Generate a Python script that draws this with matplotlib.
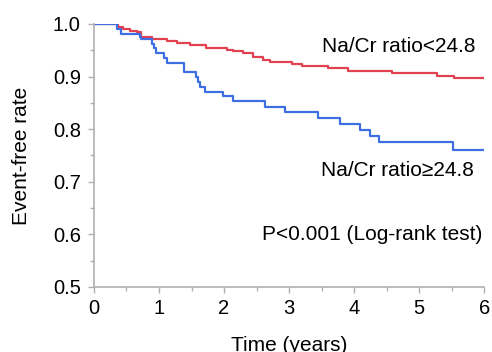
import numpy as np
import matplotlib.pyplot as plt
from matplotlib.ticker import MultipleLocator

plt.rcParams['font.family'] = ['Liberation Sans', 'DejaVu Sans']

# Kaplan-Meier step data
t_low = [0, 0.37, 0.45, 0.55, 0.66, 0.73, 0.89, 1.12, 1.27, 1.48, 1.73, 2.04, 2.14,
         2.29, 2.45, 2.60, 2.71, 3.04, 3.20, 3.60, 3.91, 4.58, 5.28, 5.53, 6.0]
s_low = [1.0, 0.995, 0.991, 0.987, 0.984, 0.976, 0.971, 0.968, 0.963, 0.959, 0.954, 0.951, 0.949,
         0.944, 0.938, 0.932, 0.927, 0.923, 0.920, 0.916, 0.911, 0.906, 0.901, 0.897, 0.897]

t_high = [0, 0.36, 0.41, 0.71, 0.73, 0.89, 0.92, 0.96, 1.08, 1.12, 1.38, 1.57, 1.60, 1.63, 1.71,
          1.98, 2.14, 2.63, 2.94, 3.45, 3.78, 4.09, 4.24, 4.39, 5.52, 6.0]
s_high = [1.0, 0.99, 0.981, 0.976, 0.971, 0.962, 0.954, 0.945, 0.935, 0.925, 0.908, 0.900, 0.890, 0.881, 0.871,
          0.863, 0.854, 0.843, 0.832, 0.821, 0.810, 0.798, 0.787, 0.776, 0.760, 0.760]

fig = plt.figure(figsize=(4.92, 3.52), dpi=100)
ax = fig.add_axes([0.191, 0.185, 0.793, 0.747])

ax.step(t_low, s_low, where='post', color='#e2414f', lw=1.6)
ax.step(t_high, s_high, where='post', color='#3d6fe3', lw=1.6)

ax.set_xlim(0, 6)
ax.set_ylim(0.5, 1.0)
ax.xaxis.set_major_locator(MultipleLocator(1))
ax.xaxis.set_minor_locator(MultipleLocator(0.5))
ax.yaxis.set_minor_locator(MultipleLocator(0.05))
ax.set_yticks(np.arange(0.5, 1.01, 0.1))
ax.set_yticklabels(['0.5', '0.6', '0.7', '0.8', '0.9', '1.0'])

for s in ['top', 'right']:
    ax.spines[s].set_visible(False)
for s in ['left', 'bottom']:
    ax.spines[s].set_color('#b0b0b0')
    ax.spines[s].set_linewidth(1.2)
ax.tick_params(which='major', length=4.5, width=1, color='#b0b0b0', labelsize=14.5)
ax.tick_params(axis='x', which='major', pad=4)
ax.tick_params(axis='y', which='major', pad=5)
ax.tick_params(which='minor', length=3, width=1, color='#b0b0b0')

ax.set_xlabel('Time (years)', fontsize=15, labelpad=13)
ax.set_ylabel('Event-free rate', fontsize=15, labelpad=16)

ax.text(5.86, 0.958, 'Na/Cr ratio<24.8', fontsize=15, ha='right', va='center')
ax.text(5.85, 0.722, 'Na/Cr ratio\u226524.8', fontsize=15, ha='right', va='center')
ax.text(5.97, 0.599, 'P<0.001 (Log-rank test)', fontsize=15, ha='right', va='center')

fig.savefig('out.png', dpi=100)
